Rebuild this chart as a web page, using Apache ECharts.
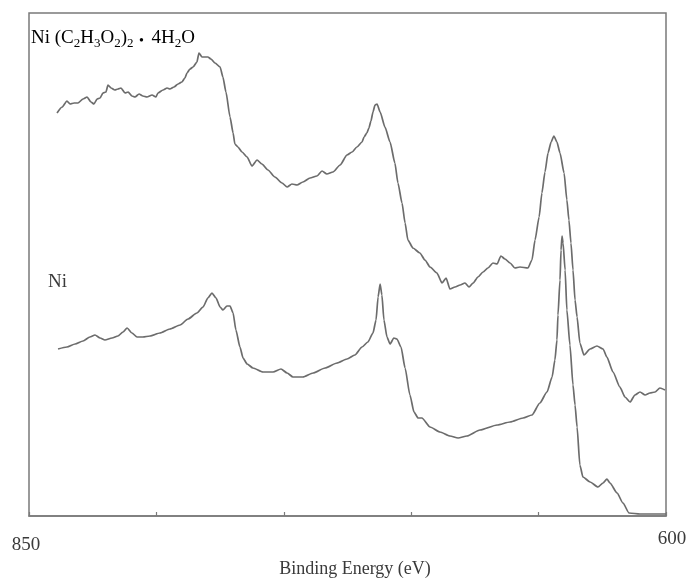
<!DOCTYPE html>
<html>
<head>
<meta charset="utf-8">
<script src="https://cdn.jsdelivr.net/npm/echarts@6/dist/echarts.min.js"></script>
<style>
  html, body { margin: 0; padding: 0; background: #ffffff; }
  #chart { width: 688px; height: 580px; }
</style>
</head>
<body>
<div id="chart"></div>
<script>
// Ni 2p XPS spectra: nickel acetate tetrahydrate (upper trace) and metallic Ni (lower trace)
const energyTicks = [850, 800, 750, 700, 650, 600];
const shownTickLabels = ['850', '600'];

const acetateEnergy = [
  839.0, 837.0, 835.1, 833.9, 832.3, 830.8, 828.8, 827.2, 825.7, 824.5,
  823.3, 822.1, 821.0, 819.8, 819.0, 817.8, 816.3, 815.1, 813.9, 812.3,
  811.1, 809.6, 808.4, 806.8, 805.3, 803.7, 801.7, 800.2, 799.4, 797.4,
  795.8, 794.7, 793.1, 791.5, 790.0, 788.8, 788.0, 786.8, 785.6, 784.1,
  783.3, 782.1, 780.9, 779.8, 778.6, 777.0, 775.0, 773.9, 772.7, 771.1,
  769.9, 769.2, 768.0, 766.4, 764.4, 762.5, 760.5, 758.6, 756.2, 753.5,
  750.7, 748.7, 746.8, 744.8, 742.5, 739.7, 737.0, 735.0, 733.1, 730.7,
  727.9, 725.2, 723.2, 721.3, 719.3, 718.5, 717.4, 716.6, 715.8, 715.0,
  714.2, 713.4, 712.2, 710.3, 708.3, 706.4, 705.2, 703.6, 702.4, 701.3,
  699.3, 696.6, 694.6, 692.6, 689.9, 687.9, 686.3, 684.8, 682.8, 680.8,
  678.9, 677.3, 675.7, 673.8, 671.8, 669.9, 667.9, 666.3, 664.8, 663.2,
  661.2, 659.3, 657.3, 654.2, 652.6, 651.4, 649.8, 648.7, 647.5, 646.3,
  645.1, 644.0, 642.8, 641.6, 640.0, 638.9, 638.1, 637.3, 636.5, 635.7,
  634.9, 633.8, 632.2, 629.8, 627.1, 624.7, 623.2, 620.8, 618.1, 616.1,
  614.1, 612.2, 610.2, 608.2, 606.3, 604.3, 602.4, 600.4
];
const acetateCounts = [
  403, 409, 415, 412, 413, 413, 417, 419, 414, 412,
  417, 418, 423, 424, 431, 428, 426, 427, 428, 423,
  424, 420, 419, 422, 420, 419, 421, 419, 423, 426,
  428, 427, 429, 432, 434, 438, 443, 447, 449, 454,
  463, 459, 459, 459, 457, 453, 449, 439, 424, 399,
  383, 372, 369, 364, 359, 350, 356, 352, 346, 339,
  333, 329, 332, 331, 334, 338, 340, 345, 342, 344,
  351, 361, 364, 369, 374, 379, 383, 388, 395, 404,
  411, 412, 404, 389, 374, 353, 333, 313, 293, 276,
  268, 263, 256, 249, 243, 233, 238, 227, 229, 231,
  233, 229, 233, 239, 244, 248, 253, 252, 260, 257,
  253, 248, 249, 248, 256, 276, 299, 323, 344, 363,
  374, 380, 374, 363, 343, 316, 296, 273, 246, 216,
  199, 173, 161, 167, 170, 167, 159, 144, 129, 119,
  114, 121, 124, 121, 123, 124, 128, 126
];

const nickelEnergy = [
  838.6, 835.1, 831.9, 828.8, 826.1, 824.1, 822.1, 820.2, 817.4, 815.1,
  813.1, 811.5, 809.6, 807.6, 805.3, 802.5, 798.6, 794.7, 790.7, 787.6,
  784.1, 781.7, 779.8, 778.2, 776.6, 775.0, 773.9, 772.3, 771.1, 769.9,
  768.8, 767.2, 766.0, 764.4, 762.1, 758.2, 754.2, 751.1, 748.7, 746.4,
  742.5, 738.5, 733.8, 729.1, 725.2, 722.1, 719.3, 717.0, 715.0, 713.8,
  713.0, 712.2, 711.5, 710.7, 709.5, 708.3, 706.8, 705.6, 704.0, 702.4,
  700.5, 698.9, 697.3, 695.8, 692.6, 688.7, 684.8, 681.6, 678.1, 673.0,
  666.3, 661.2, 656.1, 652.6, 649.5, 646.7, 644.7, 643.6, 642.8, 642.4,
  641.6, 641.2, 640.8, 640.4, 639.6, 638.9, 637.7, 636.5, 635.7, 634.9,
  633.8, 632.6, 629.8, 626.7, 624.7, 623.2, 622.0, 619.2, 616.9, 614.5,
  610.2, 600.0
];
const nickelCounts = [
  167, 169, 172, 175, 179, 181, 178, 176, 178, 180,
  184, 188, 183, 179, 179, 180, 183, 187, 191, 197,
  203, 209, 218, 223, 218, 209, 206, 210, 210, 203,
  186, 169, 158, 152, 148, 144, 144, 147, 143, 139,
  139, 143, 148, 153, 157, 161, 169, 174, 183, 196,
  219, 232, 221, 196, 179, 172, 178, 177, 169, 148,
  121, 104, 98, 98, 89, 84, 80, 78, 80, 86,
  91, 94, 98, 101, 113, 124, 139, 156, 176, 201,
  236, 266, 280, 273, 246, 206, 171, 131, 111, 89,
  51, 39, 34, 29, 33, 37, 33, 23, 13, 3,
  2, 2
];

const pairs = (xs, ys) => xs.map((x, i) => [x, ys[i]]);

const serif = '"Liberation Serif", "DejaVu Serif", serif';
const ink = '#3a3a3a';
const frame = '#7a7a7a';
const trace = '#6c6c6c';

const chart = echarts.init(document.getElementById('chart'), null, { renderer: 'canvas' });

chart.setOption({
  backgroundColor: '#ffffff',
  animation: false,
  grid: {
    left: 29, right: 22, top: 13, bottom: 64,
    containLabel: false,
    outerBoundsMode: 'none',
    show: true,
    borderColor: frame,
    borderWidth: 1.5,
    backgroundColor: 'transparent'
  },
  xAxis: {
    type: 'value',
    inverse: true,
    min: 600,
    max: 850,
    interval: 50,
    name: 'Binding Energy (eV)',
    nameLocation: 'middle',
    nameGap: 43,
    nameTextStyle: { fontFamily: serif, fontSize: 18, color: ink, padding: [0, 0, 0, 15] },
    axisLine: { show: true, lineStyle: { color: frame, width: 1.5 } },
    axisTick: { show: true, inside: true, length: 4, lineStyle: { color: frame, width: 1.2 } },
    splitLine: { show: false },
    axisLabel: {
      margin: 14,
      fontFamily: serif,
      fontSize: 19,
      color: ink,
      formatter: function (v) {
        const s = String(v);
        if (shownTickLabels.indexOf(s) < 0 || energyTicks.indexOf(v) < 0) return '';
        return v === 850 ? '{lo|' + s + '}' : '{hi|' + s + '}';
      },
      rich: {
        lo: { fontFamily: serif, fontSize: 19, color: ink, padding: [6, 6, 0, 0] },
        hi: { fontFamily: serif, fontSize: 19, color: ink, padding: [0, 0, 0, 12] }
      }
    }
  },
  yAxis: {
    type: 'value',
    min: 0,
    max: 503,
    show: false,
    splitLine: { show: false }
  },
  series: [
    {
      name: 'Ni(C2H3O2)2·4H2O',
      type: 'line',
      data: pairs(acetateEnergy, acetateCounts),
      showSymbol: false,
      smooth: 0.2,
      smoothMonotone: 'x',
      lineStyle: { color: trace, width: 1.7 },
      silent: true
    },
    {
      name: 'Ni',
      type: 'line',
      data: pairs(nickelEnergy, nickelCounts),
      showSymbol: false,
      smooth: 0.2,
      smoothMonotone: 'x',
      lineStyle: { color: trace, width: 1.7 },
      silent: true
    }
  ],
  graphic: [
    {
      type: 'text',
      left: 31,
      top: 29,
      style: {
        text: '{m|Ni (C}{s|2}{m|H}{s|3}{m|O}{s|2}{m|)}{s|2}{d| • }{m|4H}{s|2}{m|O}',
        rich: {
          m: { fontFamily: serif, fontSize: 19, color: ink, lineHeight: 24, verticalAlign: 'bottom' },
          s: { fontFamily: serif, fontSize: 13, color: ink, lineHeight: 13, verticalAlign: 'bottom', padding: [0, 0, -2, 0] },
          d: { fontFamily: serif, fontSize: 14, color: ink, lineHeight: 24, verticalAlign: 'bottom', padding: [0, 4, 0, 2] }
        }
      }
    },
    {
      type: 'text',
      left: 48,
      top: 273,
      style: { text: 'Ni', fontFamily: serif, fontSize: 19, fill: ink }
    }
  ]
});
</script>
</body>
</html>
